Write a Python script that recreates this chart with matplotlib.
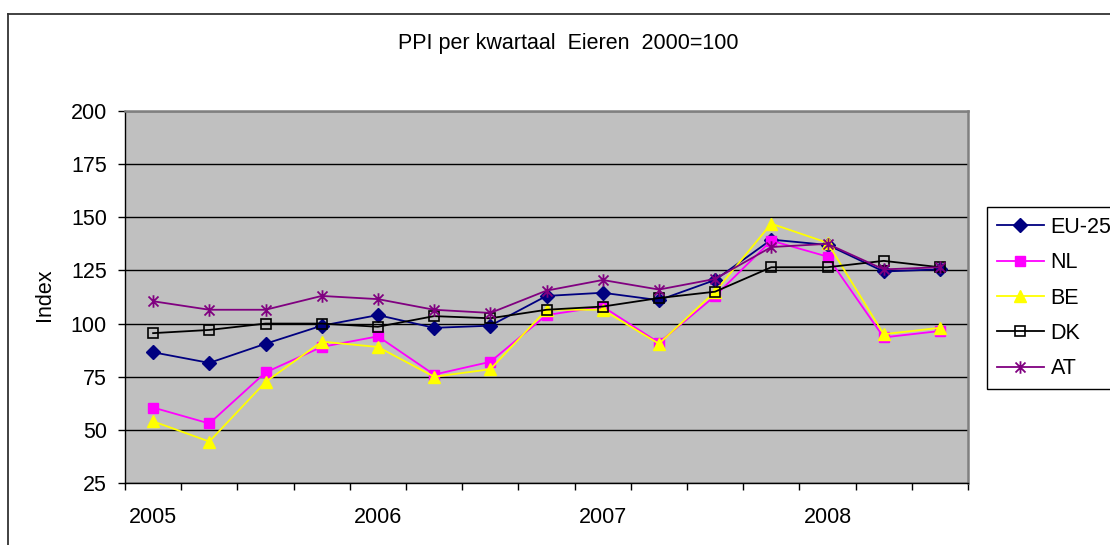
import matplotlib
matplotlib.use("Agg")
import matplotlib.pyplot as plt
from matplotlib.path import Path
from matplotlib.lines import Line2D
import numpy as np

categories = ["2005", "", "", "", "2006", "", "", "", "2007", "", "", "", "2008", "", ""]
eu25 = [86.5, 81.5, 90.5, 99, 104, 98, 99, 113, 114.5, 111, 120.5, 139.5, 137, 124.5, 125.5]
nl = [60.5, 53, 77, 89, 94, 76, 82, 104, 108, 91, 113, 139, 131.5, 93.5, 96.5]
be = [54, 44.5, 72.5, 91.5, 89, 75, 78.5, 106.5, 106.5, 90.5, 115, 147, 138, 95, 98]
dk = [95.5, 97, 100, 100, 98.5, 103.5, 102.5, 106.5, 108, 112, 115, 126.5, 126.5, 129.5, 126.5]
at = [110.5, 106.5, 106.5, 113, 111.5, 106.5, 105, 115.5, 120.5, 116, 121, 136, 137.5, 125.5, 126.5]
yticks = [25, 50, 75, 100, 125, 150, 175, 200]
title = "PPI per kwartaal  Eieren  2000=100"

plt.rcParams['font.family'] = ['Liberation Sans', 'DejaVu Sans']
FS = 15.5

W, H = 1110, 545
fig = plt.figure(figsize=(W / 100, H / 100), dpi=100)
fig.patch.set_facecolor('white')

# outer chart frame (cut off at right/bottom)
fig.add_artist(Line2D([8 / W, 8 / W], [1 - 14 / H, -0.1], transform=fig.transFigure,
                      color='#333333', lw=1.3))
fig.add_artist(Line2D([8 / W, 1.1], [1 - 14 / H, 1 - 14 / H], transform=fig.transFigure,
                      color='#333333', lw=1.3))

ax = fig.add_axes([125 / W, 1 - 483 / H, (968 - 125) / W, (483 - 111) / H])
ax.set_facecolor('#C0C0C0')

star = Path([(-1, -1), (1, 1), (-1, 1), (1, -1), (0, -1.25), (0, 1.25)],
            [Path.MOVETO, Path.LINETO, Path.MOVETO, Path.LINETO, Path.MOVETO, Path.LINETO])

x = np.arange(len(categories))
lw = 1.3
ax.plot(x, eu25, color='#000080', lw=lw, marker='D', ms=7, mfc='#000080', mec='#000080', label='EU-25')
ax.plot(x, nl, color='#FF00FF', lw=lw, marker='s', ms=7.5, mfc='#FF00FF', mec='#FF00FF', label='NL')
ax.plot(x, be, color='#FFFF00', lw=lw, marker='^', ms=9, mfc='#FFFF00', mec='#FFFF00', label='BE')
ax.plot(x, dk, color='#000000', lw=lw, marker='s', ms=7, mfc='none', mec='#000000', mew=1.2, label='DK')
ax.plot(x, at, color='#800080', lw=lw, marker=star, ms=9, mfc='none', mec='#800080', mew=1.3, label='AT')

ax.set_xlim(-0.5, len(categories) - 0.5)
ax.set_ylim(25, 200)
ax.set_yticks(yticks)
ax.set_yticklabels([str(v) for v in yticks], fontsize=FS)
ax.yaxis.grid(True, color='black', lw=1)
ax.set_axisbelow(True)
ax.tick_params(axis='y', direction='out', length=5, width=1, pad=8, color='black')

ax.set_xticks(x)
ax.set_xticklabels(categories, fontsize=FS)
ax.set_xticks(np.arange(-0.5, len(categories)), minor=True)
ax.tick_params(axis='x', which='major', length=0, pad=17)
ax.tick_params(axis='x', which='minor', direction='out', length=5, width=1, color='black')

fig.text(45 / W, 1 - 295 / H, 'Index', rotation=90, ha='center', va='center', fontsize=FS)

for s in ['left', 'bottom']:
    ax.spines[s].set_color('black')
    ax.spines[s].set_linewidth(1)
for s in ['top', 'right']:
    ax.spines[s].set_color('#808080')
    ax.spines[s].set_linewidth(1.8)

fig.text(568 / W, 1 - 43 / H, title, ha='center', va='center', fontsize=FS)

leg = ax.legend(loc='upper left', bbox_to_anchor=(987 / W, 1 - 207 / H),
                bbox_transform=fig.transFigure, fontsize=FS, frameon=True,
                fancybox=False, edgecolor='black', framealpha=1, borderaxespad=0,
                borderpad=0.45, handlelength=2.2, handletextpad=0.3, labelspacing=0.67)
leg.get_frame().set_linewidth(1)

fig.savefig('out.png', dpi=100)
